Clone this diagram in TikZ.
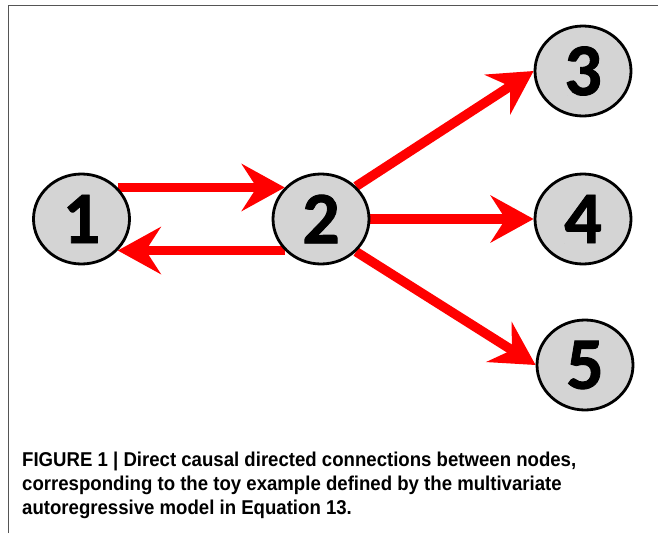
\documentclass[tikz,border=0pt]{standalone}
\usepackage{fontspec}
\setmainfont{Liberation Sans}
\newfontfamily\capfont{Liberation Sans Bold}[FakeStretch=0.93]
\newfontfamily\numfont{Carlito Bold}[FakeBold=1.2]
\usetikzlibrary{arrows.meta,shapes.geometric,backgrounds}
\definecolor{nodegray}{RGB}{212,212,212}
\definecolor{framegray}{RGB}{85,85,85}
\begin{document}
\begin{tikzpicture}[x=1pt,y=-1pt,
  nd/.style={ellipse, draw=black, line width=2.8pt, fill=nodegray,
    minimum width=96pt, minimum height=90pt, inner sep=0pt,
    font=\numfont\fontsize{74}{74}\selectfont},
  arr/.style={draw=red, line width=9.5pt,
    -{Stealth[length=43pt,width=47pt,inset=15pt,fill=red]}},
  captxt/.style={anchor=base west, inner sep=0pt,
    font=\capfont\fontsize{20}{24}\selectfont},
  framel/.style={draw=framegray, line width=1.3pt}]
\useasboundingbox (0,0) rectangle (658,533);
\draw[framel] (8.3,533) -- (8.3,5.5) -- (658,5.5);

\node[nd] (n1) at (81.5,219) {1};
\node[nd] (n2) at (321,219) {2};
\node[nd] (n3) at (583,71) {3};
\node[nd] (n4) at (583,219) {4};
\node[nd] (n5) at (585,365) {5};

\begin{scope}[on background layer]
\draw[arr] (n1.41) -- (n2.139);
\draw[arr] (n2.-139) -- (n1.-41);
\draw[arr] (n2.43) -- (n3.west);
\draw[arr] (n2.east) -- (n4.west);
\draw[arr] (n2.-43) -- (n5.west);
\end{scope}

\node[captxt] (cap1) at (22,466) {FIGURE 1 | Direct causal directed connections between nodes,};
\node[captxt] (cap2) at (22,490) {corresponding to the toy example defined by the multivariate};
\node[captxt] (cap3) at (22,514) {autoregressive model in Equation 13.};
\end{tikzpicture}
\end{document}
